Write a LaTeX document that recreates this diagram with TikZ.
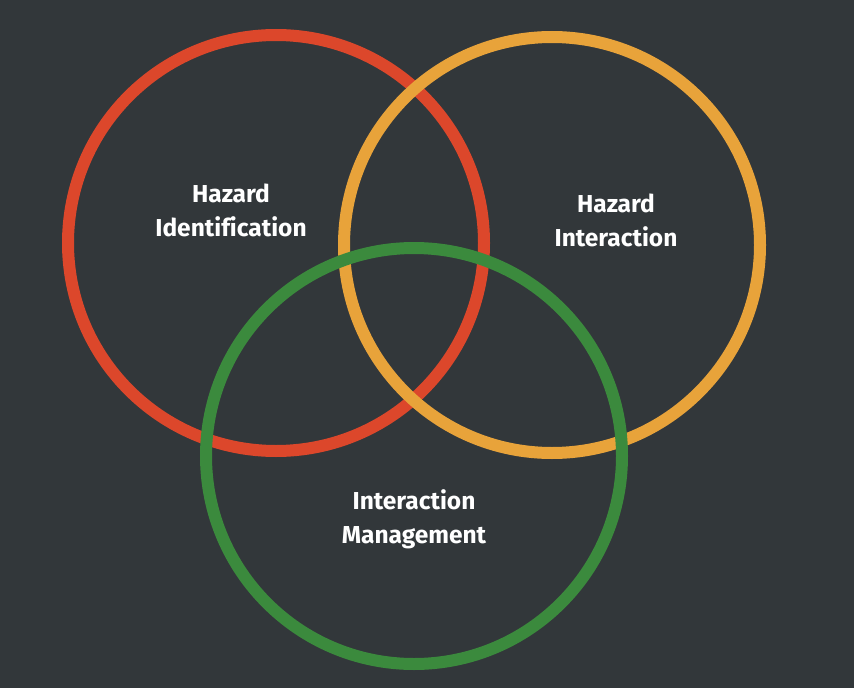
\documentclass[tikz,border=0pt]{standalone}
\usepackage{fontspec}
\setmainfont[Ligatures=NoCommon]{Fira Sans}
\definecolor{bgdark}{HTML}{32373A}
\definecolor{hzred}{HTML}{DC472B}
\definecolor{hzorange}{HTML}{E8A33A}
\definecolor{hzgreen}{HTML}{3B8A3D}

\begin{document}
\begin{tikzpicture}[x=1pt, y=-1pt,
    ring/.style={circle, draw=#1, line width=12pt, minimum size=416pt, inner sep=0pt},
    label/.style={text=white, font=\fontsize{24.5}{34}\selectfont\bfseries, align=center}]
    \fill[bgdark] (0,0) rectangle (854,688);
    \useasboundingbox (0,0) rectangle (854,688);
    \node[ring=hzred] (ident) at (276,243) {};
    \node[ring=hzorange] (inter) at (552,245) {};
    \node[ring=hzgreen] (manag) at (414,456) {};
    \node[label] (identtext) at (231,210) {Hazard\\Identification};
    \node[label] (intertext) at (616,220) {Hazard\\Interaction};
    \node[label] (managtext) at (414,519) {Interaction\\Management};
\end{tikzpicture}
\end{document}
